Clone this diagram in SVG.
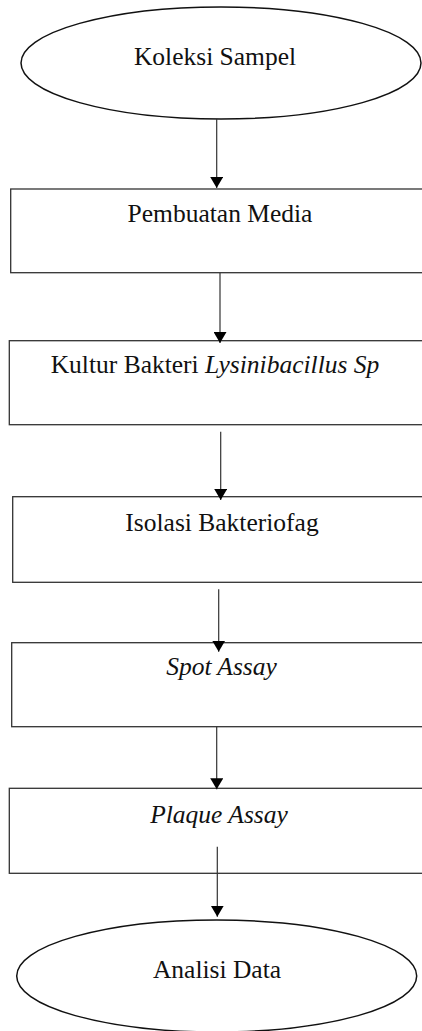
<svg xmlns="http://www.w3.org/2000/svg" width="422" height="1031" viewBox="0 0 422 1031">
<style>
.box{fill:#fff;stroke:#333;stroke-width:1.3}
.ell{fill:#fff;stroke:#111;stroke-width:1.5}
.t{font-size:25.5px;fill:#111;text-anchor:middle}
.i{font-style:italic}
.c{stroke:#333;stroke-width:1.2;fill:none;marker-end:url(#ah)}
</style>
<defs>
<marker id="ah" markerUnits="userSpaceOnUse" markerWidth="12" markerHeight="13" refX="11" refY="6.5" orient="auto" viewBox="0 0 12 13">
<path d="M0,0 L11,6.5 L0,13 z" fill="#000"/>
</marker>
</defs>
<rect width="422" height="1031" fill="#fff"/>
<g id="n1">
<ellipse class="ell" cx="221" cy="63" rx="200" ry="56"/>
<text class="t" font-family="Liberation Serif" x="215" y="64.5">Koleksi Sampel</text>
</g>
<g id="n2">
<rect class="box" x="10.7" y="189" width="430" height="83.7"/>
<text class="t" font-family="Liberation Serif" x="220" y="221.7">Pembuatan Media</text>
</g>
<g id="n3">
<rect class="box" x="9.3" y="340.7" width="430" height="84"/>
<text class="t" font-family="Liberation Serif" x="215" y="373.3">Kultur Bakteri <tspan class="i">Lysinibacillus Sp</tspan></text>
</g>
<g id="n4">
<rect class="box" x="12.7" y="496.7" width="430" height="85.6"/>
<text class="t" font-family="Liberation Serif" x="222" y="530.7">Isolasi Bakteriofag</text>
</g>
<g id="n5">
<rect class="box" x="11.7" y="642.7" width="430" height="84"/>
<text class="t i" font-family="Liberation Serif" x="221.5" y="675">Spot Assay</text>
</g>
<g id="n6">
<rect class="box" x="9.3" y="788.3" width="430" height="85"/>
<text class="t i" font-family="Liberation Serif" x="219" y="822.7">Plaque Assay</text>
</g>
<g id="n7">
<ellipse class="ell" cx="216.7" cy="976" rx="200" ry="56"/>
<text class="t" font-family="Liberation Serif" x="217" y="978">Analisi Data</text>
</g>
<g id="connectors">
<line class="c" x1="216.7" y1="119" x2="216.7" y2="188"/>
<line class="c" x1="220" y1="273" x2="220" y2="343"/>
<line class="c" x1="220.7" y1="431.7" x2="220.7" y2="500"/>
<line class="c" x1="218.7" y1="589.3" x2="218.7" y2="651.7"/>
<line class="c" x1="216.7" y1="726.7" x2="216.7" y2="789.3"/>
<line class="c" x1="217.3" y1="846.7" x2="217.3" y2="916.7"/>
</g>
</svg>
